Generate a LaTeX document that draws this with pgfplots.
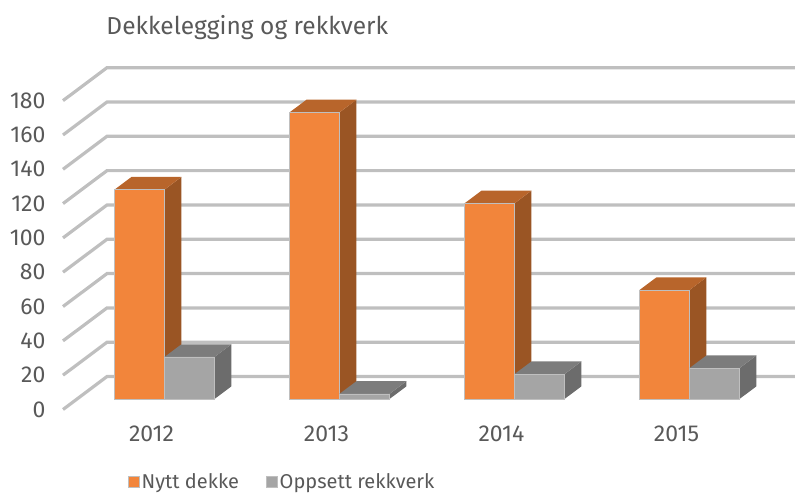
\documentclass[border=0pt]{standalone}
\usepackage{fontspec}
\setmainfont{Fira Sans}
\usepackage{pgfplots}
\pgfplotsset{compat=1.18}
\definecolor{txt}{HTML}{595959}
\definecolor{gridc}{HTML}{BFBFBF}
\definecolor{orF}{HTML}{F2853B}
\definecolor{orS}{HTML}{9A5524}
\definecolor{orT}{HTML}{B8652B}
\definecolor{grF}{HTML}{A5A5A5}
\definecolor{grS}{HTML}{6C6C6C}
\definecolor{grT}{HTML}{7C7C7C}
\pgfplotsset{
 base/.style={at={(0,0)},anchor=south west,scale only axis,width=795pt,height=494pt,
  axis line style={draw=none},major tick length=0pt,clip=false,
  /pgf/number format/assume math mode=true,
  tick label style={font=\fontsize{23}{27}\selectfont,text=txt}},
 gl/.style={draw=gridc,line width=3.2pt,forget plot},
 face/.style={draw=none,fill=#1,forget plot}
}
\begin{document}
\begin{tikzpicture}
\path[use as bounding box] (0,0) rectangle (795pt,494pt);
\begin{axis}[base,xmin=0,xmax=795,ymin=-49.24,ymax=238.64,
  xtick=\empty,ytick={0,20,40,60,80,100,120,140,160,180},
  yticklabel style={xshift=49pt,anchor=east},
  title={Dekkelegging og rekkverk},
  title style={at={(rel axis cs:0.1295,0.932)},anchor=west,font=\fontsize{24.5}{28}\selectfont,text=txt}]
\addplot[gl] coordinates {(63,0)(107,19.2)(795,19.2)};
\addplot[gl] coordinates {(63,20)(107,39.2)(795,39.2)};
\addplot[gl] coordinates {(63,40)(107,59.2)(795,59.2)};
\addplot[gl] coordinates {(63,60)(107,79.2)(795,79.2)};
\addplot[gl] coordinates {(63,80)(107,99.2)(795,99.2)};
\addplot[gl] coordinates {(63,100)(107,119.2)(795,119.2)};
\addplot[gl] coordinates {(63,120)(107,139.2)(795,139.2)};
\addplot[gl] coordinates {(63,140)(107,159.2)(795,159.2)};
\addplot[gl] coordinates {(63,160)(107,179.2)(795,179.2)};
\addplot[gl] coordinates {(63,180)(107,199.2)(795,199.2)};
\end{axis}
\begin{axis}[base,xmin=-0.94,xmax=3.603,ymin=-55.36,ymax=232.52,
  xtick={0,1,2,3},xticklabels={2012,2013,2014,2015},ytick=\empty,
  xticklabel style={xshift=-13pt,yshift=71.5pt},
  legend columns=2,
  legend style={at={(rel axis cs:0.161,0.004)},anchor=south west,draw=none,fill=none,
    font=\fontsize{20}{24}\selectfont,text=txt,inner sep=0pt,outer sep=0pt,
    /tikz/every even column/.style={column sep=25pt}},
  legend image code/.code={\fill[#1] (0pt,-5.5pt) rectangle (11pt,5.5pt);}]
% orange depth faces
\addplot[face=orS] coordinates {(0,0)(.0971,7.4)(.0971,129.4)(0,122)} -- cycle;
\addplot[face=orS] coordinates {(1,0)(1.0971,7.4)(1.0971,174.4)(1,167)} -- cycle;
\addplot[face=orS] coordinates {(2,0)(2.0971,7.4)(2.0971,121.4)(2,114)} -- cycle;
\addplot[face=orS] coordinates {(3,0)(3.0971,7.4)(3.0971,70.9)(3,63.5)} -- cycle;
\addplot[face=orT] coordinates {(-.2857,122)(0,122)(.0971,129.4)(-.1886,129.4)} -- cycle;
\addplot[face=orT] coordinates {(.7143,167)(1,167)(1.0971,174.4)(.8114,174.4)} -- cycle;
\addplot[face=orT] coordinates {(1.7143,114)(2,114)(2.0971,121.4)(1.8114,121.4)} -- cycle;
\addplot[face=orT] coordinates {(2.7143,63.5)(3,63.5)(3.0971,70.9)(2.8114,70.9)} -- cycle;
% orange front
\addplot[ybar,bar width=50pt,bar shift=-25pt,fill=orF,draw=gridc,line width=0.7pt] coordinates {(0,122)(1,167)(2,114)(3,63.5)};
\addlegendentry{Nytt dekke}
% grey depth faces
\addplot[face=grS] coordinates {(.2857,0)(.3828,7.4)(.3828,31.9)(.2857,24.5)} -- cycle;
\addplot[face=grS] coordinates {(1.2857,0)(1.3828,7.4)(1.3828,10.4)(1.2857,3)} -- cycle;
\addplot[face=grS] coordinates {(2.2857,0)(2.3828,7.4)(2.3828,21.9)(2.2857,14.5)} -- cycle;
\addplot[face=grS] coordinates {(3.2857,0)(3.3828,7.4)(3.3828,25.4)(3.2857,18)} -- cycle;
\addplot[face=grT] coordinates {(0,24.5)(.2857,24.5)(.3828,31.9)(.0971,31.9)} -- cycle;
\addplot[face=grT] coordinates {(1,3)(1.2857,3)(1.3828,10.4)(1.0971,10.4)} -- cycle;
\addplot[face=grT] coordinates {(2,14.5)(2.2857,14.5)(2.3828,21.9)(2.0971,21.9)} -- cycle;
\addplot[face=grT] coordinates {(3,18)(3.2857,18)(3.3828,25.4)(3.0971,25.4)} -- cycle;
% grey front
\addplot[ybar,bar width=50pt,bar shift=25pt,fill=grF,draw=gridc,line width=0.7pt] coordinates {(0,24.5)(1,3)(2,14.5)(3,18)};
\addlegendentry{Oppsett rekkverk}
\end{axis}
\end{tikzpicture}
\end{document}
